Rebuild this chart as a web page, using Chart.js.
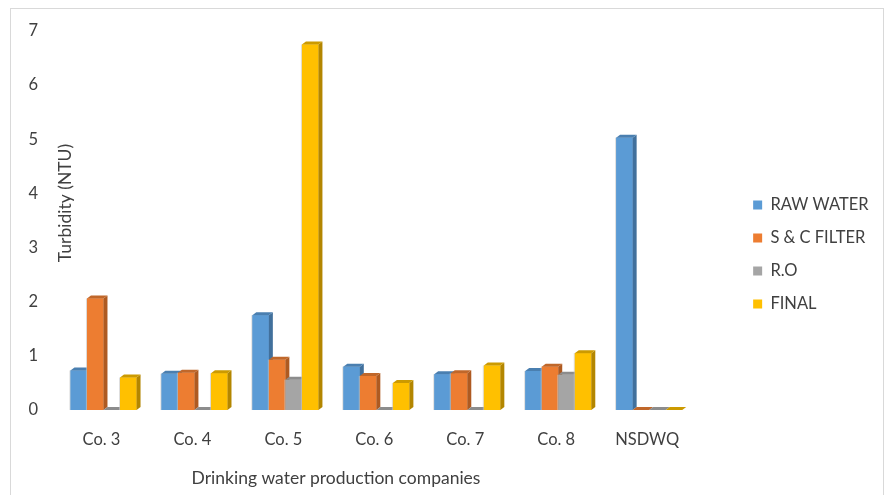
<!DOCTYPE html>
<html>
<head>
<meta charset="utf-8">
<script src="https://cdn.jsdelivr.net/npm/chart.js@4/dist/chart.umd.min.js"></script>
<style>
  html, body { margin: 0; padding: 0; background: #ffffff; }
  #wrap { width: 885px; height: 495px; position: relative; }
</style>
</head>
<body>
<div id="wrap"><canvas id="turbidity" width="885" height="495"></canvas></div>
<script>
// Turbidity readings (NTU) per treatment stage
const categories = ['Co. 3', 'Co. 4', 'Co. 5', 'Co. 6', 'Co. 7', 'Co. 8', 'NSDWQ'];
const rawWater = [0.73, 0.67, 1.75, 0.80, 0.66, 0.72, 5.03];
const scFilter = [2.06, 0.69, 0.93, 0.63, 0.68, 0.80, 0];
const reverseOsmosis = [0, 0, 0.56, 0, 0, 0.65, 0];
const finalWater = [0.60, 0.68, 6.75, 0.50, 0.82, 1.05, 0];
const yTicks = [0, 1, 2, 3, 4, 5, 6, 7];

const seriesNames = ['RAW WATER', 'S & C FILTER', 'R.O', 'FINAL'];
const frontColors = ['#5B9BD5', '#ED7D31', '#A5A5A5', '#FFC000'];
const sideColors = ['#41709C', '#AE5A21', '#787878', '#B38600'];
const topColors = ['#4A7FB0', '#C0672A', '#8C8C8C', '#CC9A00'];

const FONT = 'Lato, "Liberation Sans", sans-serif';
const TEXT = '#404040';

// Excel-style extruded columns: front, side and top faces drawn per category, left to right
const columns3d = {
  id: 'columns3d',
  afterDatasetsDraw(chart) {
    const ctx = chart.ctx;
    const dx = 4, dy = 3;
    const n = chart.data.datasets.length;
    ctx.save();
    for (let i = 0; i < categories.length; i++) {
      for (let d = 0; d < n; d++) {
        const el = chart.getDatasetMeta(d).data[i];
        if (!el) continue;
        const p = el.getProps(['x', 'y', 'base', 'width'], true);
        const l = p.x - p.width / 2, r = p.x + p.width / 2;
        const top = Math.min(p.y, p.base), bot = Math.max(p.y, p.base);
        // front face
        ctx.fillStyle = frontColors[d];
        ctx.fillRect(l, top, r - l, bot - top);
        // faint edge on the left side
        if (bot - top > 1) {
          ctx.fillStyle = 'rgba(200,200,200,0.6)';
          ctx.fillRect(l - 1, top, 1, bot - top);
        }
        // side face
        ctx.fillStyle = sideColors[d];
        ctx.beginPath();
        ctx.moveTo(r, top);
        ctx.lineTo(r + dx, top - dy);
        ctx.lineTo(r + dx, bot - dy);
        ctx.lineTo(r, bot);
        ctx.closePath();
        ctx.fill();
        // top face
        ctx.fillStyle = topColors[d];
        ctx.beginPath();
        ctx.moveTo(l, top);
        ctx.lineTo(l + dx, top - dy);
        ctx.lineTo(r + dx, top - dy);
        ctx.lineTo(r, top);
        ctx.closePath();
        ctx.fill();
      }
    }
    ctx.restore();
  }
};

// Frame, background and axis captions
const frame = {
  id: 'frame',
  beforeDraw(chart) {
    const ctx = chart.ctx;
    ctx.save();
    ctx.fillStyle = '#ffffff';
    ctx.fillRect(0, 0, chart.width, chart.height);
    ctx.strokeStyle = '#D9D9D9';
    ctx.lineWidth = 1;
    ctx.strokeRect(10.5, 8.5, chart.width - 12, chart.height + 10);
    ctx.restore();
  },
  afterDraw(chart) {
    const ctx = chart.ctx;
    const a = chart.chartArea;
    ctx.save();
    ctx.fillStyle = TEXT;
    ctx.font = '17.5px ' + FONT;
    ctx.textAlign = 'center';
    ctx.textBaseline = 'middle';
    ctx.fillText('Drinking water production companies', a.left + 278, a.bottom + 68);
    ctx.translate(a.left + 7, a.top + 172);
    ctx.rotate(-Math.PI / 2);
    ctx.fillText('Turbidity (NTU)', 0, 0);
    ctx.restore();
  }
};

const values = [rawWater, scFilter, reverseOsmosis, finalWater];

new Chart(document.getElementById('turbidity'), {
  type: 'bar',
  data: {
    labels: categories,
    datasets: seriesNames.map((name, k) => ({
      label: name,
      data: values[k],
      backgroundColor: frontColors[k],
      borderWidth: 0,
      categoryPercentage: 0.727,
      barPercentage: 1.0
    }))
  },
  options: {
    responsive: false,
    animation: false,
    devicePixelRatio: 1,
    layout: { padding: { left: 10, top: 31, right: 6.5, bottom: 17 } },
    plugins: {
      legend: {
        position: 'right',
        align: 'center',
        labels: {
          boxWidth: 9,
          boxHeight: 9,
          padding: 16.5,
          color: TEXT,
          font: { family: FONT, size: 16.5 }
        }
      },
      tooltip: { enabled: false },
      title: { display: false }
    },
    scales: {
      x: {
        grid: { display: false, drawTicks: false },
        border: { display: false },
        ticks: {
          color: TEXT,
          font: { family: FONT, size: 16.5 },
          padding: 20,
          labelOffset: -2,
          maxRotation: 0
        },
        afterFit(s) { s.height = 68; }
      },
      y: {
        min: 0,
        max: 7,
        grid: { display: false, drawTicks: false },
        border: { display: false },
        afterBuildTicks(s) { s.ticks = yTicks.map(v => ({ value: v })); },
        ticks: {
          color: TEXT,
          font: { family: FONT, size: 16.5 },
          padding: 20
        },
        afterFit(s) { s.width = 48; }
      },
      gap: {
        position: 'right',
        display: true,
        grid: { display: false, drawTicks: false },
        border: { display: false },
        ticks: { display: false },
        afterFit(s) { s.width = 42; }
      }
    }
  },
  plugins: [frame, columns3d]
});
</script>
</body>
</html>
